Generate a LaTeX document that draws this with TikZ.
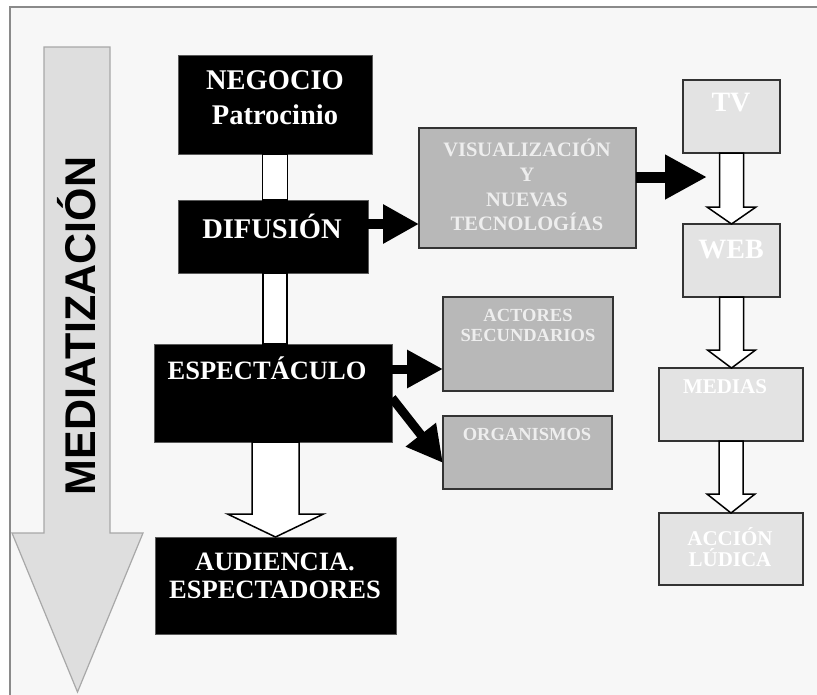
\documentclass[tikz,border=0pt]{standalone}
\usepackage{fontspec}
\setmainfont{Liberation Serif}
\newfontfamily\mysans{Liberation Sans}
\usetikzlibrary{arrows.meta,calc}
\definecolor{bgc}{HTML}{F7F7F7}
\definecolor{framec}{HTML}{8A8A8A}
\definecolor{bigfill}{HTML}{DEDEDE}
\definecolor{bigline}{HTML}{A8A8A8}
\definecolor{midgray}{HTML}{B8B8B8}
\definecolor{lightgr}{HTML}{E3E3E3}
\definecolor{boxline}{HTML}{333333}
\definecolor{softwhite}{HTML}{EEEEEE}
\newcommand\myfs[2]{\fontsize{#1}{#2}\selectfont}
\newcommand\myharrow[5]{%
  \draw[hollowarrow] let \p1=(#1), \p2=(#2) in
    (\x1-#3,\y1) -- (\x1-#3,\y2+#5) -- (\x1-#4,\y2+#5) -- (\x1,\y2)
    -- (\x1+#4,\y2+#5) -- (\x1+#3,\y2+#5) -- (\x1+#3,\y1) -- cycle;}
\tikzset{
  blackbox/.style={rectangle, fill=black, draw=black!65, line width=1pt, inner sep=0pt, outer sep=0pt},
  graybox/.style={rectangle, fill=midgray, draw=boxline, line width=1.5pt, inner sep=0pt, outer sep=0pt},
  lightbox/.style={rectangle, fill=lightgr, draw=boxline, line width=1.5pt, inner sep=0pt, outer sep=0pt},
  wtext/.style={text=white, font=\bfseries, align=center, inner sep=0pt},
  gtext/.style={text=softwhite, font=\bfseries, align=center, inner sep=0pt},
  hollowarrow/.style={fill=white, draw=black, line width=1.5pt, line join=miter},
}
\begin{document}
\begin{tikzpicture}[x=1pt,y=-1pt]
\useasboundingbox (0,0) rectangle (817,694);
\fill[white] (0,0) rectangle (817,694);
\draw[fill=bgc, draw=framec, line width=1.5pt] (10,7) rectangle (840,720);

% big arrow
\draw[fill=bigfill, draw=bigline, line width=1.2pt, line join=miter]
  (44,47) -- (110,47) -- (110,533) -- (143,533) -- (77.5,692) -- (12,533) -- (44,533) -- cycle;
\node[rotate=90, font=\mysans\bfseries\myfs{43}{43}, inner sep=0pt] (med0) at (77,326) {MEDIATIZACIÓN};

% boxes
\node[blackbox, minimum width=194pt, minimum height=99pt] (neg) at (275,104.5) {};
\node[blackbox, minimum width=190pt, minimum height=73pt] (dif) at (273,236.5) {};
\node[graybox, minimum width=217pt, minimum height=120pt] (vis) at (527.5,188) {};
\node[lightbox, minimum width=97pt, minimum height=73pt] (tv) at (731.5,116.5) {};
\node[lightbox, minimum width=97pt, minimum height=73pt] (web) at (731.5,260.5) {};
\node[blackbox, minimum width=238pt, minimum height=98pt] (esp) at (273,393) {};
\node[graybox, minimum width=170pt, minimum height=94pt] (act) at (528,344) {};
\node[graybox, minimum width=169pt, minimum height=73pt] (org) at (527.5,452.5) {};
\node[blackbox, minimum width=241pt, minimum height=97pt] (aud) at (275.5,585.5) {};
\node[lightbox, minimum width=144pt, minimum height=73pt] (med) at (731,404.5) {};
\node[lightbox, minimum width=144pt, minimum height=72pt] (acc) at (731,549) {};

% texts
\node[wtext, font=\bfseries\myfs{28.5}{35}] (negT) at (275,98) {NEGOCIO\\Patrocinio};
\node[wtext, font=\bfseries\myfs{28.5}{34}] (difT) at (272,226) {DIFUSIÓN};
\node[gtext, font=\bfseries\myfs{20.5}{24.7}] (visT) at (527,185) {VISUALIZACIÓN\\Y\\NUEVAS\\TECNOLOGÍAS};
\node[text=white, font=\bfseries\myfs{28}{30}, inner sep=0pt] (tvT) at (731,103) {TV};
\node[text=white, font=\bfseries\myfs{28}{30}, inner sep=0pt] (webT) at (731,250) {WEB};
\node[wtext, font=\bfseries\myfs{26.5}{30}] (espT) at (267,368) {ESPECTÁCULO};
\node[gtext, font=\bfseries\myfs{18.5}{20}] (actT) at (528,325) {ACTORES\\SECUNDARIOS};
\node[gtext, font=\bfseries\myfs{18.5}{20}] (orgT) at (527,434) {ORGANISMOS};
\node[wtext, font=\bfseries\myfs{26.5}{28}] (audT) at (275,576) {AUDIENCIA.\\ESPECTADORES};
\node[text=white, font=\bfseries\myfs{21}{21}, inner sep=0pt] (medT) at (725,387) {MEDIAS};
\node[text=white, font=\bfseries\myfs{21}{21}, inner sep=0pt, align=center] (accT) at (730,547) {ACCIÓN\\LÚDICA};

% hollow connectors
\myharrow{neg.south}{dif.north}{12.5pt}{12.5pt}{0pt}
\myharrow{neg.south |- dif.south}{esp.north}{12pt}{12pt}{0pt}
\myharrow{aud.north |- esp.south}{aud.north}{23.5pt}{48pt}{23pt}
\myharrow{tv.south}{web.north}{12pt}{24.5pt}{17pt}
\myharrow{web.south}{med.north}{12pt}{24pt}{18pt}
\myharrow{med.south}{acc.north}{12pt}{24pt}{19pt}

% solid connectors
\coordinate (vtip) at (707,177);
\draw[draw=black, line width=10pt, -{Triangle[length=36pt,width=37pt]}]
  ([yshift=12.5pt]dif.east) -- ([yshift=12.5pt]dif.east -| vis.west);
\draw[draw=black, line width=11pt, -{Triangle[length=42pt,width=42pt]}]
  ([yshift=11pt]vis.east) -- (vtip);
\draw[draw=black, line width=9pt, -{Triangle[length=36pt,width=36pt]}]
  ([yshift=24pt]esp.east) -- ([yshift=24pt]esp.east -| act.west);
\draw[draw=black, line width=9pt, -{Triangle[length=36pt,width=36pt]}]
  ([yshift=-5pt]esp.east) -- ([yshift=-10.5pt]org.west);
\end{tikzpicture}
\end{document}
